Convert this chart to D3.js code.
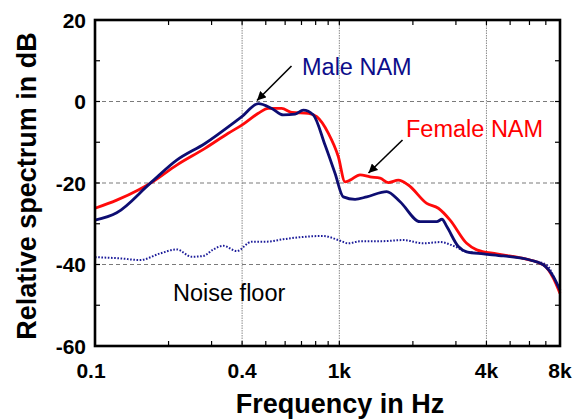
<!DOCTYPE html>
<html>
<head>
<meta charset="utf-8">
<script src="https://cdn.jsdelivr.net/npm/d3@7"></script>
<style>
  body { margin: 0; background: #fff; }
  svg { display: block; font-family: "Liberation Sans", Arial, sans-serif; }
</style>
</head>
<body>
<svg id="vis"></svg>
<script>
// frequencies in kHz, levels in dB
const maleFreq = [0.1, 0.1227, 0.168, 0.216, 0.282, 0.368, 0.399, 0.466, 0.529, 0.59, 0.659, 0.712, 0.783,
    0.874, 0.96, 1.038, 1.16, 1.295, 1.563, 1.773, 2.14, 2.504, 2.63, 2.753, 3.07, 3.32, 3.886, 4.69, 6.03, 6.84, 7.52, 8.0];
const maleDb = [-29.1, -27.3, -20.1, -14.4, -10.3, -5.3, -3.7, -0.5, -1.7, -3.3, -3.1, -2.1, -3.3,
    -10.7, -17.6, -23.4, -24.0, -23.4, -22.1, -24.6, -29.5, -29.5, -28.9, -30.7, -35.6, -36.9, -37.4, -37.9, -38.9, -40.1, -43.0, -46.3];

const femaleFreq = [0.1, 0.1227, 0.1504, 0.168, 0.216, 0.282, 0.351, 0.399, 0.466, 0.512, 0.581, 0.639, 0.747,
    0.808, 0.902, 0.99, 1.055, 1.106, 1.215, 1.336, 1.468, 1.587, 1.744, 1.916, 2.279, 2.542, 2.84, 3.32, 3.65, 4.41, 5.66, 6.84, 7.52, 8.0];
const femaleDb = [-26.2, -24.2, -21.7, -20.1, -15.6, -11.5, -7.8, -5.8, -2.9, -1.7, -1.7, -2.7, -2.9,
    -3.7, -7.8, -13.5, -19.7, -19.3, -18.0, -18.5, -18.8, -19.9, -19.3, -20.5, -25.0, -26.2, -29.1, -34.8, -36.4, -37.4, -38.5, -40.1, -43.4, -47.1];

const noiseFreq = [0.1, 0.1266, 0.1528, 0.1845, 0.216, 0.2488, 0.2776, 0.305, 0.335, 0.38, 0.438, 0.504, 0.59, 0.69,
    0.86, 0.991, 1.088, 1.215, 1.468, 1.828, 2.208, 2.584, 2.976, 3.32, 4.01, 5.16, 6.23, 7.06, 7.88, 8.0];
const noiseDb = [-38.2, -38.5, -38.9, -37.3, -36.3, -38.1, -37.9, -36.3, -35.4, -36.7, -34.4, -34.4, -33.8, -33.3,
    -33.0, -34.0, -34.8, -34.3, -34.3, -34.0, -34.8, -34.5, -35.6, -36.9, -37.3, -38.1, -39.1, -40.1, -45.4, -46.0];

const xLabelTicks = [0.1, 0.4, 1, 4, 8];
const xLabels = ['0.1', '0.4', '1k', '4k', '8k'];
const xGrid = [0.4, 1, 4];
const xMinor = [0.2, 0.3, 0.5, 0.6, 0.7, 0.8, 0.9, 2, 3, 5, 6, 7];
const yLabelTicks = [20, 0, -20, -40, -60];
const yGrid = [0, -20, -40];
const yMinor = [10, -10, -30, -50];

const width = 577, height = 420;
const plot = { left: 95, right: 560, top: 20, bottom: 346 };

const svg = d3.select('#vis').attr('width', width).attr('height', height);

const x = d3.scaleLog().domain([0.1, 8]).range([plot.left, plot.right]);
const y = d3.scaleLinear().domain([-60, 20]).range([plot.bottom, plot.top]);

// grid
svg.append('g').selectAll('line').data(xGrid).join('line')
    .attr('x1', d => x(d)).attr('x2', d => x(d))
    .attr('y1', plot.top).attr('y2', plot.bottom)
    .attr('stroke', '#8a8a8a').attr('stroke-width', 1).attr('stroke-dasharray', '1.5,1');
svg.append('g').selectAll('line').data(yGrid).join('line')
    .attr('x1', plot.left).attr('x2', plot.right)
    .attr('y1', d => y(d)).attr('y2', d => y(d))
    .attr('stroke', '#7a7a7a').attr('stroke-width', 1.2).attr('stroke-dasharray', '4,3');

// inward ticks on all four sides
const tickLen = 5;
const xt = svg.append('g').attr('stroke', '#000').attr('stroke-width', 1.2);
xMinor.concat(xGrid).forEach(d => {
    xt.append('line').attr('x1', x(d)).attr('x2', x(d)).attr('y1', plot.bottom).attr('y2', plot.bottom - tickLen);
    xt.append('line').attr('x1', x(d)).attr('x2', x(d)).attr('y1', plot.top).attr('y2', plot.top + tickLen);
});
yMinor.concat(yGrid).forEach(d => {
    xt.append('line').attr('x1', plot.left).attr('x2', plot.left + tickLen).attr('y1', y(d)).attr('y2', y(d));
    xt.append('line').attr('x1', plot.right).attr('x2', plot.right - tickLen).attr('y1', y(d)).attr('y2', y(d));
});

// curves
function drawCurve(freq, db, colour, w, dash) {
    const pts = freq.map((f, i) => [f, db[i]]);
    const line = d3.line().x(d => x(d[0])).y(d => y(d[1])).curve(d3.curveMonotoneX);
    const p = svg.append('path').datum(pts).attr('d', line)
        .attr('fill', 'none').attr('stroke', colour).attr('stroke-width', w)
        .attr('stroke-linejoin', 'round');
    if (dash) p.attr('stroke-dasharray', dash);
}
drawCurve(noiseFreq, noiseDb, '#1c1c9a', 2, '1.6,1.6');
drawCurve(femaleFreq, femaleDb, '#ff0a0a', 2.8);
drawCurve(maleFreq, maleDb, '#0d0d72', 2.8);

// frame
svg.append('rect')
    .attr('x', plot.left).attr('y', plot.top)
    .attr('width', plot.right - plot.left).attr('height', plot.bottom - plot.top)
    .attr('fill', 'none').attr('stroke', '#000').attr('stroke-width', 2.6);

// tick labels
svg.append('g').selectAll('text').data(yLabelTicks).join('text')
    .attr('x', plot.left - 9).attr('y', d => y(d)).attr('dy', '0.36em')
    .attr('text-anchor', 'end').attr('font-size', 21).attr('font-weight', 'bold')
    .text(d => d);
svg.append('g').selectAll('text').data(xLabelTicks).join('text')
    .attr('x', (d, i) => x(d) - (i == 0 ? 4 : 0)).attr('y', 378)
    .attr('text-anchor', 'middle').attr('font-size', 21).attr('font-weight', 'bold')
    .text((d, i) => xLabels[i]);

// axis titles
svg.append('text')
    .attr('transform', 'translate(36,186) rotate(-90)')
    .attr('text-anchor', 'middle').attr('font-size', 27).attr('font-weight', 'bold')
    .text('Relative spectrum in dB');
svg.append('text')
    .attr('x', 340).attr('y', 413)
    .attr('text-anchor', 'middle').attr('font-size', 27).attr('font-weight', 'bold')
    .text('Frequency in Hz');

// annotations
const defs = svg.append('defs');
defs.append('marker').attr('id', 'arrow')
    .attr('viewBox', '0 0 10 10').attr('refX', 10).attr('refY', 5)
    .attr('markerWidth', 9).attr('markerHeight', 9).attr('markerUnits', 'userSpaceOnUse')
    .attr('orient', 'auto')
    .append('path').attr('d', 'M0,0 L10,5 L0,10 Z').attr('fill', '#000');

function arrow(x1, y1, x2, y2) {
    svg.append('line').attr('x1', x1).attr('y1', y1).attr('x2', x2).attr('y2', y2)
        .attr('stroke', '#000').attr('stroke-width', 1.6).attr('marker-end', 'url(#arrow)');
}
arrow(291.5, 66, 257, 100.5);
arrow(402.5, 140, 368.5, 173);

svg.append('text').attr('x', 302).attr('y', 75)
    .attr('font-size', 23.5).attr('fill', '#0d0d8a').text('Male NAM');
svg.append('text').attr('x', 406).attr('y', 137)
    .attr('font-size', 23.5).attr('fill', '#ff0000').text('Female NAM');
svg.append('text').attr('x', 173).attr('y', 300.5)
    .attr('font-size', 23.5).attr('fill', '#000').text('Noise floor');
</script>
</body>
</html>
